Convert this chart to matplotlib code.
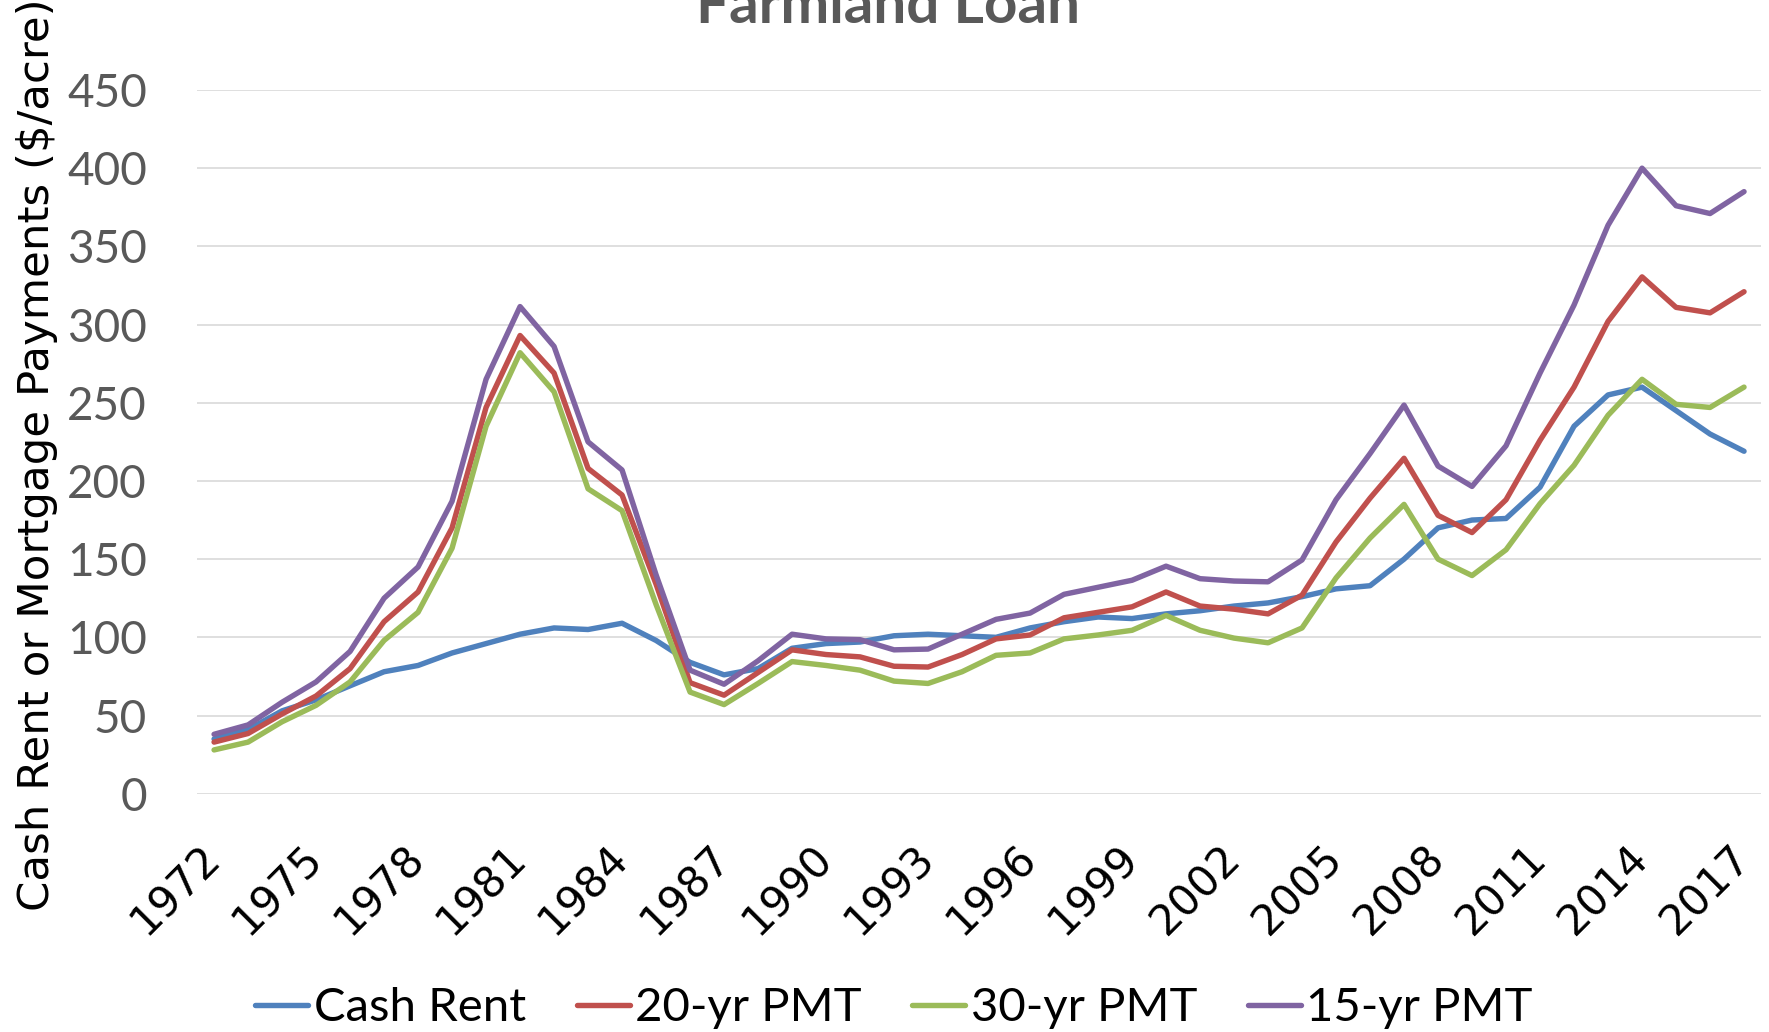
import matplotlib
matplotlib.use("Agg")
import matplotlib.pyplot as plt

# values ($/acre)
years = list(range(1972, 2018))

cash_rent = [35, 41, 53, 60, 69, 78, 82, 90, 96, 102, 106, 105, 109, 98, 84,
             76, 80, 93, 96, 97, 101, 102, 101, 100, 106, 110, 113, 112, 115, 117,
             120, 122, 126, 131, 133, 150, 170, 175, 176, 196, 235, 255, 260, 245, 230, 219]

pmt_20 = [33, 38.5, 51, 62.5, 80, 110, 129, 170, 247, 293, 269, 208, 191, 134, 71,
          63, 77.5, 92, 89, 87.5, 81.5, 81, 89, 99, 101.5, 112.5, 116, 119.5, 129, 120,
          118, 115, 127, 161, 189, 214.5, 178, 167, 188, 226, 260, 302, 330.5, 311, 307.5, 321]

pmt_30 = [28, 33, 46, 56.5, 71.5, 98, 116, 157, 235, 282, 257, 195, 181, 121, 65,
          57, 70.5, 84.5, 82, 79, 72, 70.5, 78, 88.5, 90, 99, 101.5, 104.5, 114, 104.5,
          99.5, 96.5, 106, 138, 163.5, 185, 150, 139.5, 156, 185.5, 210, 242, 265, 249, 247, 260]

pmt_15 = [38, 44, 58.5, 71.5, 91, 125, 145, 187, 265, 311.5, 286, 225, 207, 140, 79,
          70, 85, 102, 99, 98.5, 92, 92.5, 102, 111.5, 115.5, 127.5, 132, 136.5, 145.5, 137.5,
          136, 135.5, 149.5, 188, 217.5, 248.5, 209.5, 196.5, 222.5, 269, 312.5, 363.5, 400, 376, 371, 385]

series = [("Cash Rent", cash_rent, "#4F81BD"),
          ("20-yr PMT", pmt_20, "#C0504D"),
          ("30-yr PMT", pmt_30, "#9BBB59"),
          ("15-yr PMT", pmt_15, "#8064A2")]

fig = plt.figure(figsize=(17.69, 10.32), dpi=100)
ax = fig.add_axes([0.1114, 0.2309, 0.8841, 0.6819])

for name, vals, col in series:
    ax.plot(years, vals, color=col, lw=3.9, label=name,
            solid_joinstyle="round", solid_capstyle="round")

ax.set_xlim(1971.5, 2017.5)
ax.set_ylim(0, 450)
ax.set_yticks(range(0, 451, 50))
ax.set_xticks(years[::3])
ax.grid(axis="y", color="#D9D9D9", lw=1.2)
ax.set_axisbelow(True)
for s in ax.spines.values():
    s.set_visible(False)

ax.tick_params(axis="y", length=0, pad=36, labelsize=33, labelcolor="#595959")
for t in ax.get_yticklabels():
    t.set_fontfamily("Lato")
ax.tick_params(axis="x", length=0, pad=42)
ax.set_xticklabels([str(y) for y in years[::3]], rotation=45, ha="right",
                   va="center", rotation_mode="anchor", fontsize=30.5,
                   family="DejaVu Sans", color="black")

fig.text(37 / 1769, 1 - 455 / 1032, "Cash Rent or Mortgage Payments ($/acre)",
         rotation=90, ha="center", va="center", fontsize=31.3,
         family="DejaVu Sans", color="black")

fig.text(888 / 1769, 1 - 23.3 / 1032, "Farmland Loan", ha="center", va="baseline",
         fontsize=42, fontweight="bold", family="Lato", color="#595959")

fig.legend(loc="center", bbox_to_anchor=(894 / 1769, 0.023), ncol=4, frameon=False,
           prop={"family": "Lato", "size": 34}, handlelength=1.12,
           handletextpad=0.12, columnspacing=1.07)

fig.savefig("out.png", dpi=100)
